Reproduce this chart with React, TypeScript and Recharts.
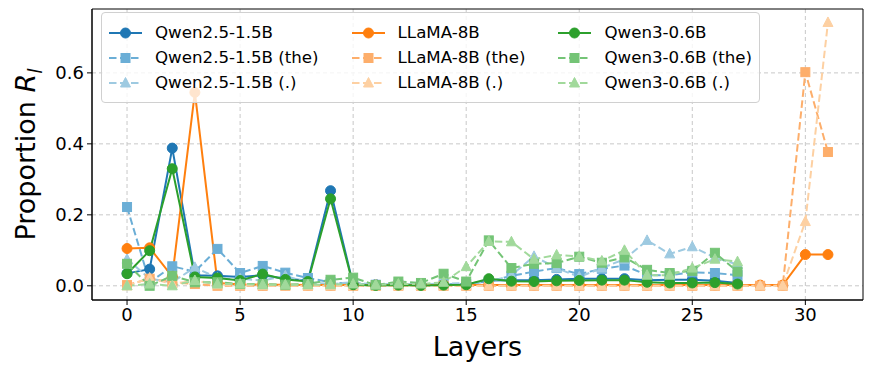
import { LineChart, Line, XAxis, YAxis, CartesianGrid, ReferenceArea, Label } from 'recharts'

const layers = Array.from({ length: 32 }, (_, i) => i)

const qwen25 = [0.035, 0.047, 0.388, 0.03, 0.028, 0.025, 0.03, 0.02, 0.015, 0.268, 0.004, 0.003, 0.003, 0.003, 0.003, 0.004, 0.015, 0.016, 0.016, 0.018, 0.02, 0.02, 0.02, 0.016, 0.017, 0.017, 0.014, 0.008]
const qwen25The = [0.222, 0.01, 0.055, 0.04, 0.104, 0.036, 0.056, 0.037, 0.022, 0.01, 0.005, 0.003, 0.003, 0.003, 0.004, 0.005, 0.012, 0.028, 0.04, 0.05, 0.033, 0.048, 0.057, 0.03, 0.03, 0.038, 0.036, 0.03]
const qwen25Dot = [0.075, 0.02, 0.01, 0.052, 0.022, 0.02, 0.015, 0.028, 0.01, 0.005, 0.01, 0.003, 0.004, 0.005, 0.006, 0.008, 0.01, 0.03, 0.083, 0.05, 0.025, 0.05, 0.075, 0.128, 0.09, 0.11, 0.08, 0.06]
const llama = [0.105, 0.107, 0.026, 0.545, 0.008, 0.004, 0.003, 0.003, 0.002, 0.002, 0.002, 0.002, 0.002, 0.002, 0.002, 0.002, 0.002, 0.002, 0.002, 0.002, 0.002, 0.002, 0.002, 0.002, 0.002, 0.002, 0.002, 0.002, 0.002, 0.002, 0.088, 0.088]
const llamaThe = [0.002, 0.02, 0.01, 0.005, 0, 0, 0, 0, 0, 0, 0, 0, 0, 0, 0, 0, 0, 0, 0, 0, 0, 0, 0, 0, 0, 0, 0, 0, 0, 0, 0.602, 0.377]
const llamaDot = [0, 0.022, 0.005, 0.015, 0.003, 0.002, 0.001, 0, 0, 0, 0, 0, 0, 0, 0, 0, 0, 0, 0, 0, 0, 0, 0, 0, 0, 0, 0, 0, 0, 0, 0.181, 0.742]
const qwen3 = [0.034, 0.099, 0.33, 0.025, 0.022, 0.015, 0.033, 0.018, 0.012, 0.245, 0.003, 0.001, 0.002, 0.001, 0.002, 0.003, 0.02, 0.013, 0.012, 0.014, 0.015, 0.016, 0.016, 0.01, 0.008, 0.008, 0.009, 0.005]
const qwen3The = [0.062, 0, 0.028, 0.01, 0.01, 0.005, 0.005, 0.003, 0.005, 0.017, 0.023, 0.002, 0.012, 0.008, 0.034, 0.012, 0.128, 0.05, 0.062, 0.064, 0.082, 0.065, 0.08, 0.045, 0.036, 0.042, 0.093, 0.04]
const qwen3Dot = [0, 0.005, 0, 0.015, 0.005, 0.005, 0.003, 0.003, 0.003, 0.003, 0.005, 0.003, 0.005, 0.005, 0.01, 0.054, 0.125, 0.124, 0.075, 0.087, 0.083, 0.07, 0.1, 0.03, 0.03, 0.05, 0.075, 0.068]

const xTicks = [0, 5, 10, 15, 20, 25, 30]
const yTicks = [0, 0.2, 0.4, 0.6]

type Shape = 'circle' | 'square' | 'triangle'

const series: { key: string; name: string; values: number[]; color: string; dashed: boolean; shape: Shape }[] = [
  { key: 'q25', name: 'Qwen2.5-1.5B', values: qwen25, color: '#1f77b4', dashed: false, shape: 'circle' },
  { key: 'q25the', name: 'Qwen2.5-1.5B (the)', values: qwen25The, color: '#6baed6', dashed: true, shape: 'square' },
  { key: 'q25dot', name: 'Qwen2.5-1.5B (.)', values: qwen25Dot, color: '#9ecae1', dashed: true, shape: 'triangle' },
  { key: 'll', name: 'LLaMA-8B', values: llama, color: '#ff7f0e', dashed: false, shape: 'circle' },
  { key: 'llthe', name: 'LLaMA-8B (the)', values: llamaThe, color: '#fdae6b', dashed: true, shape: 'square' },
  { key: 'lldot', name: 'LLaMA-8B (.)', values: llamaDot, color: '#fdd0a2', dashed: true, shape: 'triangle' },
  { key: 'q3', name: 'Qwen3-0.6B', values: qwen3, color: '#2ca02c', dashed: false, shape: 'circle' },
  { key: 'q3the', name: 'Qwen3-0.6B (the)', values: qwen3The, color: '#74c476', dashed: true, shape: 'square' },
  { key: 'q3dot', name: 'Qwen3-0.6B (.)', values: qwen3Dot, color: '#a1d99b', dashed: true, shape: 'triangle' },
]

const data = layers.map((layer) => {
  const row: Record<string, number | undefined> = { layer }
  series.forEach((s) => {
    row[s.key] = s.values[layer]
  })
  return row
})

const FONT = '"DejaVu Sans", sans-serif'
const DASH = '7.5 3.5'
const LEGEND_FS = 16.67

function marker(shape: Shape, color: string, cx: number, cy: number, key?: number | string) {
  if (shape === 'circle') return <circle key={key} cx={cx} cy={cy} r={5} fill={color} stroke={color} />
  if (shape === 'square') return <rect key={key} x={cx - 4.5} y={cy - 4.5} width={9} height={9} fill={color} stroke={color} />
  return <polygon key={key} points={`${cx},${cy - 5.5} ${cx - 5},${cy + 4} ${cx + 5},${cy + 4}`} fill={color} stroke={color} />
}

const makeDot = (shape: Shape, color: string) => (props: any) => {
  const { cx, cy, index, value } = props
  if (cx == null || cy == null || value == null) return <g key={index} />
  return marker(shape, color, cx, cy, index)
}

function YLabel(props: any) {
  const { viewBox } = props
  const cy = viewBox.y + viewBox.height / 2
  const x = 35
  return (
    <text x={x} y={cy} transform={`rotate(-90, ${x}, ${cy})`} textAnchor="middle" fontFamily={FONT} fontSize={27} fill="#000">
      Proportion <tspan fontStyle="italic">R</tspan>
      <tspan fontStyle="italic" fontSize={19} dy={7}>l</tspan>
    </text>
  )
}

function LegendBox() {
  const cols = [0, 1, 2].map((c) => series.slice(c * 3, c * 3 + 3))
  return (
    <div
      style={{
        position: 'absolute',
        left: 101,
        top: 12,
        height: 91,
        padding: '7px 7px',
        boxSizing: 'border-box',
        border: '1px solid #d0d0d0',
        borderRadius: 4,
        background: 'rgba(255,255,255,0.8)',
        display: 'flex',
        gap: 33,
        fontFamily: FONT,
        fontSize: LEGEND_FS,
      }}
    >
      {cols.map((col, ci) => (
        <div key={ci} style={{ display: 'flex', flexDirection: 'column' }}>
          {col.map((s) => (
            <div key={s.key} style={{ display: 'flex', alignItems: 'center', height: 26.5 }}>
              <svg width={33} height={14} style={{ marginRight: 13 }}>
                <line x1={0} y1={7} x2={33} y2={7} stroke={s.color} strokeWidth={2} strokeDasharray={s.dashed ? DASH : undefined} />
                {marker(s.shape, s.color, 16.5, 7)}
              </svg>
              <span style={{ whiteSpace: 'nowrap' }}>{s.name}</span>
            </div>
          ))}
        </div>
      ))}
    </div>
  )
}

export default function App() {
  return (
    <div style={{ position: 'absolute', left: 0, top: 0, width: 871, height: 372, background: '#fff' }}>
      <LineChart width={871} height={372} data={data} margin={{ top: 9, right: 8, bottom: 0, left: 0 }}>
        <CartesianGrid stroke="#c8c8c8" strokeDasharray="4 3" verticalValues={xTicks} horizontalValues={yTicks} />
        <XAxis
          dataKey="layer"
          type="number"
          domain={[-1.55, 32.55]}
          ticks={xTicks}
          allowDataOverflow
          height={72}
          tickSize={5}
          tickMargin={3}
          axisLine={{ stroke: '#000' }}
          tickLine={{ stroke: '#000' }}
          tick={{ fill: '#000', fontSize: 18, fontFamily: FONT }}
        >
          <Label value="Layers" position="insideBottom" offset={16} style={{ fontSize: 27, fontFamily: FONT, fill: '#000' }} />
        </XAxis>
        <YAxis
          type="number"
          domain={[-0.04, 0.78]}
          ticks={yTicks}
          allowDataOverflow
          width={92}
          tickSize={5}
          tickMargin={3}
          tickFormatter={(v: number) => v.toFixed(1)}
          axisLine={{ stroke: '#000' }}
          tickLine={{ stroke: '#000' }}
          tick={{ fill: '#000', fontSize: 18, fontFamily: FONT }}
        >
          <Label content={YLabel} />
        </YAxis>
        <ReferenceArea x1={-1.55} x2={32.55} y1={-0.04} y2={0.78} fill="none" stroke="#000" strokeWidth={1} />
        {series.map((s) => (
          <Line
            key={s.key}
            dataKey={s.key}
            name={s.name}
            type="linear"
            stroke={s.color}
            strokeWidth={2}
            strokeDasharray={s.dashed ? DASH : undefined}
            dot={makeDot(s.shape, s.color)}
            activeDot={false}
            isAnimationActive={false}
          />
        ))}
      </LineChart>
      <LegendBox />
    </div>
  )
}
